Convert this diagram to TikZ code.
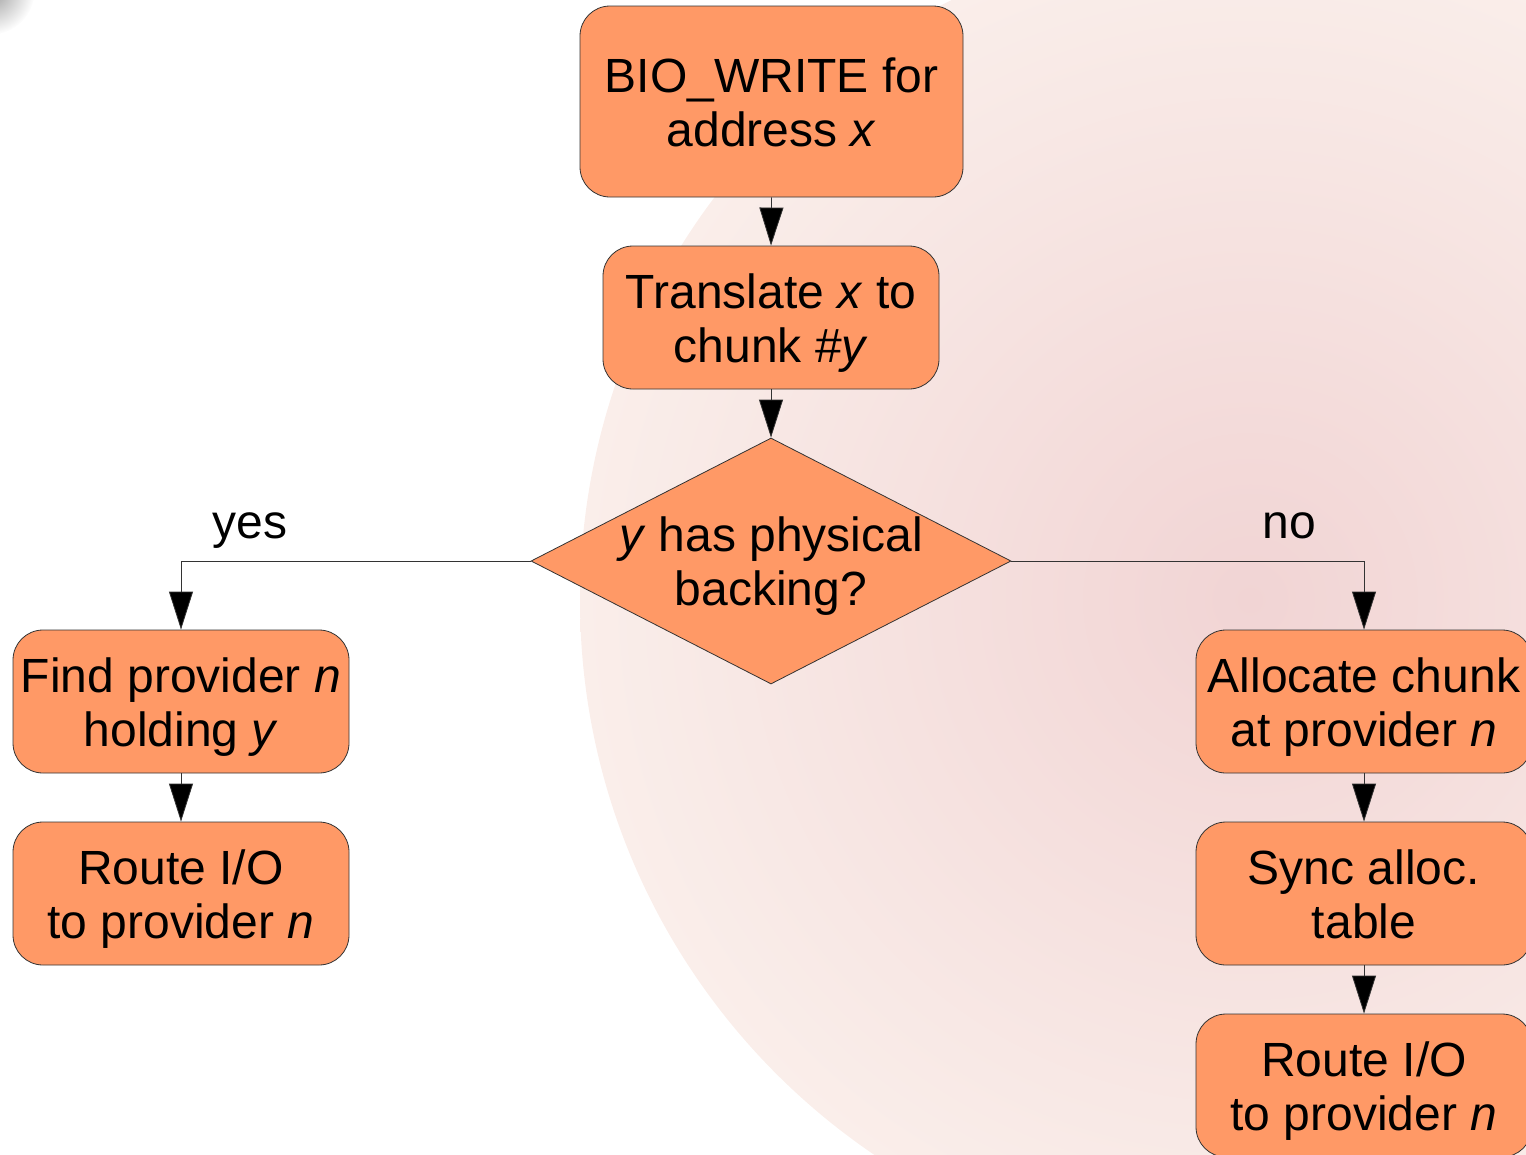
\documentclass[tikz,border=0pt]{standalone}
\usepackage{fontspec}
\setmainfont{Liberation Sans}
\usetikzlibrary{shapes.geometric,arrows.meta}
\definecolor{boxfill}{HTML}{FF9966}
\definecolor{edgecol}{HTML}{333333}
\definecolor{bgpink}{RGB}{241,212,212}
\definecolor{bgpale}{RGB}{250,238,234}
\newcommand{\headstrut}{\rule{0pt}{46pt}}
\newcommand{\footstrut}{\rule[-11pt]{0pt}{11pt}}
\tikzset{
  flowbox/.style={draw=edgecol, line width=0.8pt, fill=boxfill, rounded corners=30pt,
    minimum width=336pt, minimum height=143pt, align=center, inner sep=0pt,
    font=\fontsize{48}{54}\selectfont},
  decision/.style={draw=edgecol, line width=0.8pt, fill=boxfill, diamond, inner sep=0pt,
    minimum width=480pt, minimum height=246pt},
  bigtext/.style={align=center, inner sep=0pt, font=\fontsize{48}{54}\selectfont},
  arr/.style={draw=edgecol, line width=0.8pt, -{Triangle[length=38pt,width=24pt,fill=black]}}
}
\begin{document}
\begin{tikzpicture}[x=1pt,y=-1pt]
\useasboundingbox (0,0) rectangle (1526,1154);
% background decoration
\begin{scope}
\clip (0,0) rectangle (1526,1154);
\shade[inner color=bgpink, outer color=bgpale] (1250,600) circle (670);
\shade[inner color=gray!80, outer color=white] (-10,-10) circle (45);
\end{scope}
% nodes
\node[flowbox, minimum width=383pt, minimum height=191pt] (start) at (771.5,101.5) {\headstrut BIO\_WRITE for\\address \textit{x}\footstrut};
\node[flowbox] (trans) at (771,317.5) {\headstrut Translate \textit{x} to\\chunk \#\textit{y}\footstrut};
\node[decision] (dec) at (771,561) {};
\node[bigtext] (dectext) at (771,566) {\textit{y} has physical\\backing?};
\node[flowbox] (lb1) at (181,701.5) {\headstrut Find provider \textit{n}\\holding \textit{y}\footstrut};
\node[flowbox] (lb2) at (181,893.5) {\headstrut Route I/O\\to provider \textit{n}\footstrut};
\node[flowbox] (rb1) at (1364,701.5) {\headstrut Allocate chunk\\at provider \textit{n}\footstrut};
\node[flowbox] (rb2) at (1364,893.5) {\headstrut Sync alloc.\\table\footstrut};
\node[flowbox] (rb3) at (1364,1085.5) {\headstrut Route I/O\\to provider \textit{n}\footstrut};
\node[bigtext, anchor=base] (yes) at (250,538) {yes};
\node[bigtext, anchor=base] (no) at (1289,538) {no};
% connectors
\draw[arr] (start.south) -- (trans.north);
\draw[arr] (trans.south) -- (dec.north);
\draw[arr] (dec.west) -| (lb1.north);
\draw[arr] (dec.east) -| (rb1.north);
\draw[arr] (lb1.south) -- (lb2.north);
\draw[arr] (rb1.south) -- (rb2.north);
\draw[arr] (rb2.south) -- (rb3.north);
\end{tikzpicture}
\end{document}
